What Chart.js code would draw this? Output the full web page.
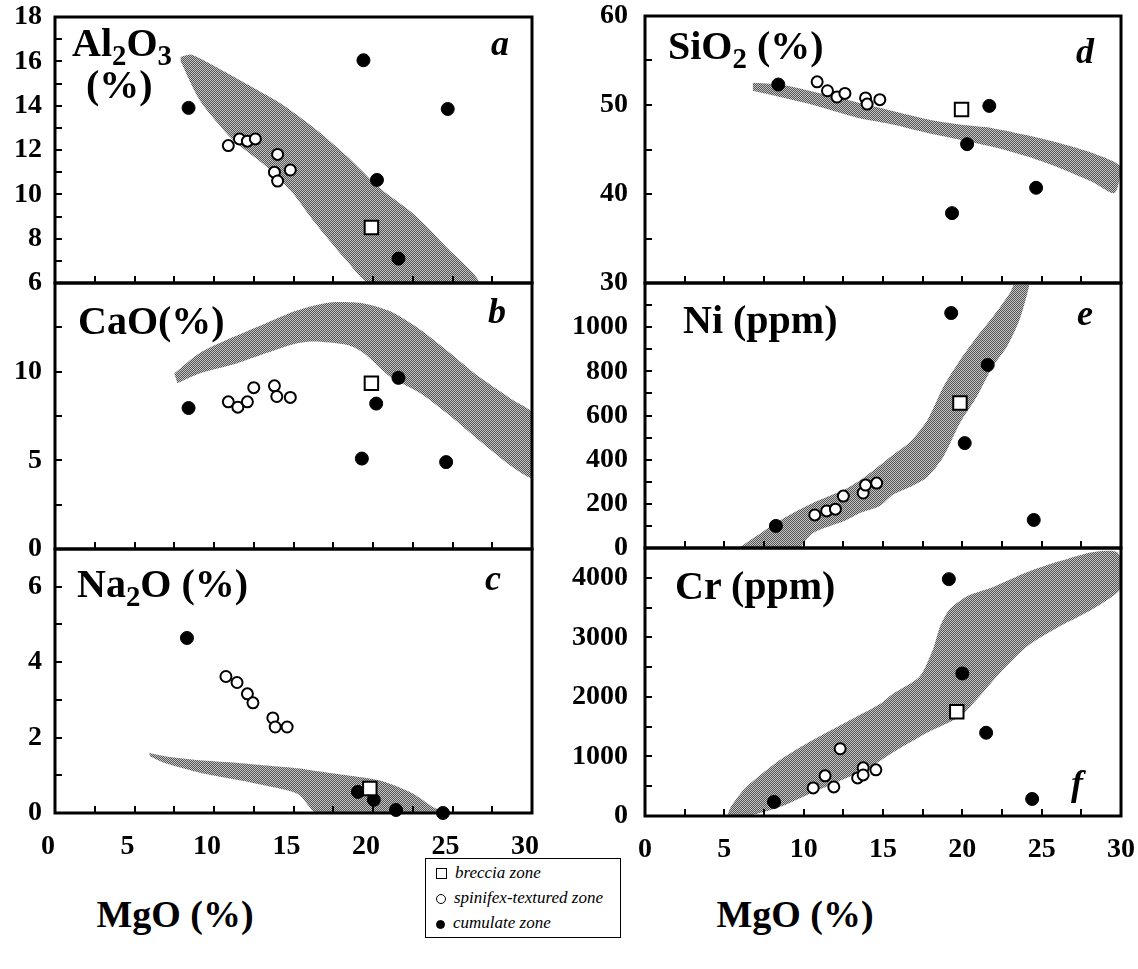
<!DOCTYPE html>
<html>
<head>
<meta charset="utf-8">
<script src="https://cdn.jsdelivr.net/npm/chart.js@4.4.0/dist/chart.umd.min.js"></script>
<style>
    body { margin: 0; background: #fff; width: 1138px; height: 969px; position: relative; overflow: hidden; font-family: 'Liberation Serif', 'Times New Roman', serif; color: #000; }
    canvas { position: absolute; }
    .name { position: absolute; font-weight: bold; font-size: 40px; line-height: 1; white-space: nowrap; }
    .name sub { font-size: 0.72em; vertical-align: -0.3em; line-height: 0; }
    .letter { position: absolute; font-weight: bold; font-style: italic; font-size: 36px; line-height: 1; transform: translateX(-50%); }
    .axtitle { position: absolute; font-weight: bold; font-size: 38px; line-height: 1; white-space: nowrap; transform: translateX(-50%); }
    #legend { position: absolute; left: 425px; top: 858px; width: 196px; height: 80px; border: 1.5px solid #000; box-sizing: border-box; font-style: italic; font-size: 17px; }
    #legend div { position: absolute; left: 10px; height: 20px; line-height: 20px; white-space: nowrap; }
    #legend span.mk { display: inline-block; box-sizing: border-box; margin-right: 8px; vertical-align: -1px; border: 1.5px solid #000; }
</style>
</head>
<body>
<div id="legend">
    <div style="top:4px"><span class="mk" style="width:11px;height:11px"></span>breccia zone</div>
    <div style="top:29px"><span class="mk" style="width:10px;height:10px;border-radius:50%"></span>spinifex-textured zone</div>
    <div style="top:54px"><span class="mk" style="width:9px;height:9px;border-radius:50%;background:#000"></span>cumulate zone</div>
</div>
<div class="axtitle" style="left:175px; top:895px">MgO (%)</div>
<div class="axtitle" style="left:795px; top:895px">MgO (%)</div>

<script>
// x axis of every panel: MgO (%)
const mgoTicks = { min: 0, max: 30, step: 2.5, labelEvery: 5 };

// --- a : Al2O3 (%) ---
const aBrecciaMgO = [19.9];
const aBreccia = [8.5];
const aSpinMgO = [10.9, 11.6, 12.1, 12.6, 14.0, 13.8, 14.0, 14.8];
const aSpin = [12.2, 12.5, 12.4, 12.5, 11.8, 11.0, 10.6, 11.1];
const aCumMgO = [8.4, 19.4, 20.25, 21.6, 24.7];
const aCum = [13.9, 16.05, 10.65, 7.1, 13.85];
const aFieldMgO = [7.9, 8.6, 10.5, 12.5, 14.2, 16.2, 18.4, 20.4, 22.5, 24.65, 26.6, 19.8, 18.35, 16.2, 14.9, 13.3, 11.2, 9.1, 7.9];
const aField = [16.2, 16.3, 15.6, 14.8, 14.1, 13.05, 11.7, 10.3, 9.15, 7.6, 6.0, 6.0, 7.0, 8.85, 10.1, 11.25, 12.45, 14.25, 16.0];

// --- b : CaO (%) ---
const bBrecciaMgO = [19.9];
const bBreccia = [9.35];
const bSpinMgO = [10.9, 11.5, 12.1, 12.5, 13.8, 13.95, 14.8];
const bSpin = [8.3, 8.0, 8.3, 9.1, 9.2, 8.6, 8.55];
const bCumMgO = [8.4, 19.3, 20.2, 21.6, 24.6];
const bCum = [7.95, 5.1, 8.2, 9.65, 4.9];
const bFieldMgO = [7.5, 9.1, 11.2, 13.3, 15.2, 17.3, 19.4, 21.1, 23.0, 24.65, 26.7, 28.8, 30.2, 30.2, 28.8, 26.7, 24.65, 22.95, 21.1, 19.4, 18.4, 16.2, 15.0, 13.3, 11.2, 9.1, 7.7];
const bField = [9.9, 11.05, 11.95, 12.75, 13.45, 13.9, 13.85, 13.4, 12.35, 11.2, 9.7, 8.4, 7.5, 4.0, 4.6, 6.1, 7.65, 8.8, 9.7, 11.05, 11.5, 11.7, 11.55, 11.05, 10.4, 9.9, 9.35];

// --- c : Na2O (%) ---
const cBrecciaMgO = [19.8];
const cBreccia = [0.65];
const cSpinMgO = [10.75, 11.45, 12.1, 12.45, 13.7, 13.85, 14.6];
const cSpin = [3.62, 3.46, 3.16, 2.92, 2.52, 2.28, 2.28];
const cCumMgO = [8.3, 19.05, 20.05, 21.45, 24.4];
const cCum = [4.64, 0.56, 0.35, 0.08, 0.0];
const cFieldMgO = [5.9, 7.0, 9.1, 11.2, 13.3, 15.4, 16.2, 18.35, 20.45, 22.5, 23.8, 24.6, 16.5, 15.3, 13.3, 11.2, 9.1, 7.0, 6.0];
const cField = [1.6, 1.5, 1.4, 1.34, 1.26, 1.18, 1.13, 1.0, 0.86, 0.52, 0.15, 0.0, 0.0, 0.5, 0.72, 0.9, 1.07, 1.31, 1.5];

// --- d : SiO2 (%) ---
const dBrecciaMgO = [19.95];
const dBreccia = [49.5];
const dSpinMgO = [10.85, 11.5, 12.1, 12.6, 13.9, 14.0, 14.8];
const dSpin = [52.6, 51.6, 50.9, 51.3, 50.8, 50.1, 50.6];
const dCumMgO = [8.4, 19.35, 20.3, 21.7, 24.65];
const dCum = [52.3, 37.85, 45.6, 49.9, 40.7];
const dFieldMgO = [6.8, 8.5, 10.6, 12.7, 14.8, 17.8, 19.85, 21.9, 24.1, 26.15, 28.2, 30.0, 29.6, 28.2, 26.15, 24.1, 21.9, 19.85, 17.8, 15.6, 13.5, 12.7, 10.6, 8.5, 6.8];
const dField = [52.5, 52.3, 51.5, 50.6, 49.7, 48.4, 47.8, 47.4, 46.6, 45.7, 44.6, 43.0, 40.1, 41.35, 42.9, 44.2, 45.3, 46.1, 46.85, 47.8, 48.5, 48.9, 50.0, 50.9, 51.6];

// --- e : Ni (ppm) ---
const eBrecciaMgO = [19.85];
const eBreccia = [657];
const eSpinMgO = [10.7, 11.45, 12.0, 12.5, 13.75, 13.9, 14.6];
const eSpin = [150, 168, 176, 235, 249, 285, 294];
const eCumMgO = [8.25, 19.3, 20.15, 21.6, 24.5];
const eCum = [100, 1064, 475, 829, 127];
const eFieldMgO = [5.9, 8.5, 10.6, 12.7, 14.0, 15.6, 16.7, 17.8, 18.8, 19.85, 20.9, 21.9, 23.0, 23.4, 24.2, 24.15, 23.6, 22.8, 21.9, 20.9, 19.85, 18.8, 17.8, 16.7, 15.6, 14.8, 13.55, 12.7, 10.6, 9.75];
const eField = [0, 125, 205, 270, 330, 420, 480, 580, 730, 850, 955, 1045, 1155, 1210, 1210, 1168, 1032, 910, 820, 684, 566, 412, 322, 276, 240, 190, 158, 127, 68, 0];

// --- f : Cr (ppm) ---
const fBrecciaMgO = [19.65];
const fBreccia = [1750];
const fSpinMgO = [10.6, 11.35, 11.9, 12.3, 13.4, 13.75, 13.75, 14.55];
const fSpin = [472, 674, 489, 1129, 640, 809, 690, 775];
const fCumMgO = [8.13, 19.15, 20.0, 21.5, 24.4];
const fCum = [236, 3977, 2393, 1398, 286];
const fFieldMgO = [5.2, 5.4, 6.4, 8.5, 10.6, 12.7, 14.8, 15.6, 17.3, 18.15, 18.6, 19.2, 20.3, 21.9, 24.1, 26.15, 28.2, 29.8, 30.1, 28.2, 26.15, 24.1, 22.4, 20.9, 19.85, 17.8, 15.6, 14.2, 12.7, 10.6, 8.5, 6.6];
const fField = [0, 150, 490, 940, 1280, 1580, 1880, 2050, 2340, 2800, 3185, 3470, 3690, 3840, 4095, 4280, 4430, 4420, 3860, 3470, 3185, 2850, 2410, 1955, 1670, 1400, 1060, 820, 640, 400, 150, 0];

const pts = (xs, ys) => xs.map((x, i) => ({ x: x, y: ys[i] }));

const tickFont = { family: 'Liberation Serif', size: 28, weight: 'bold' };

// dotted screen used for the shaded fields (soft checker, reads as mid grey)
function screenPattern() {
    const c = document.createElement('canvas');
    c.width = 2;
    c.height = 2;
    const g = c.getContext('2d');
    g.fillStyle = '#c4c4c4';
    g.fillRect(0, 0, 2, 2);
    g.fillStyle = '#555';
    g.fillRect(0, 0, 1, 1);
    g.fillRect(1, 1, 1, 1);
    return g.createPattern(c, 'repeat');
}
const screen = screenPattern();

// heavy frame round the plot plus short inward tick marks on the bottom and left axes
const framePlugin = {
    id: 'frame',
    afterDatasetsDraw(chart) {
        const { ctx, chartArea: a, scales } = chart;
        const tickLen = 7;
        ctx.save();
        ctx.strokeStyle = '#000';
        ctx.lineWidth = 2;
        ctx.beginPath();
        scales.x.ticks.forEach(t => {
            const px = Math.round(scales.x.getPixelForValue(t.value));
            ctx.moveTo(px, a.bottom);
            ctx.lineTo(px, a.bottom - tickLen);
        });
        scales.y.ticks.forEach(t => {
            const py = Math.round(scales.y.getPixelForValue(t.value));
            ctx.moveTo(a.left, py);
            ctx.lineTo(a.left + tickLen, py);
        });
        ctx.stroke();
        ctx.lineWidth = 3;
        ctx.strokeRect(a.left, a.top, a.right - a.left, a.bottom - a.top);
        ctx.restore();
    }
};

// keep every chart area exactly where the panel sits: no room reserved for overhanging labels
function fixScale(s, size) {
    if (s.isHorizontal()) {
        s.height = size;
    } else {
        s.width = size;
    }
    s.paddingLeft = 0;
    s.paddingRight = 0;
    s.paddingTop = 0;
    s.paddingBottom = 0;
}

const panels = [
    { col: 0, area: [55, 17, 532, 283], xLabels: false, y: [6, 18, 1, 2, []],
      breccia: pts(aBrecciaMgO, aBreccia), spin: pts(aSpinMgO, aSpin), cum: pts(aCumMgO, aCum), field: pts(aFieldMgO, aField) },
    { col: 0, area: [55, 283, 532, 549], xLabels: false, y: [0, 15, 2.5, 5, [15]],
      breccia: pts(bBrecciaMgO, bBreccia), spin: pts(bSpinMgO, bSpin), cum: pts(bCumMgO, bCum), field: pts(bFieldMgO, bField) },
    { col: 0, area: [55, 549, 532, 813], xLabels: true, y: [0, 7, 1, 2, []],
      breccia: pts(cBrecciaMgO, cBreccia), spin: pts(cSpinMgO, cSpin), cum: pts(cCumMgO, cCum), field: pts(cFieldMgO, cField) },
    { col: 1, area: [645, 16, 1121, 283], xLabels: false, y: [30, 60, 5, 10, []],
      breccia: pts(dBrecciaMgO, dBreccia), spin: pts(dSpinMgO, dSpin), cum: pts(dCumMgO, dCum), field: pts(dFieldMgO, dField) },
    { col: 1, area: [645, 283, 1121, 548], xLabels: false, y: [0, 1200, 100, 200, [1200]],
      breccia: pts(eBrecciaMgO, eBreccia), spin: pts(eSpinMgO, eSpin), cum: pts(eCumMgO, eCum), field: pts(eFieldMgO, eField) },
    { col: 1, area: [645, 548, 1121, 816], xLabels: true, y: [0, 4500, 500, 1000, []],
      breccia: pts(fBrecciaMgO, fBreccia), spin: pts(fSpinMgO, fSpin), cum: pts(fCumMgO, fCum), field: pts(fFieldMgO, fField) }
];

function buildPanel(p) {
    const leftW = p.col === 0 ? 55 : 80;
    const bottomH = p.xLabels ? 52 : 16;
    const pad = 16;
    const canvas = document.createElement('canvas');
    canvas.width = (p.area[2] - p.area[0]) + leftW + pad;
    canvas.height = (p.area[3] - p.area[1]) + pad + bottomH;
    canvas.style.left = (p.area[0] - leftW) + 'px';
    canvas.style.top = (p.area[1] - pad) + 'px';
    document.body.appendChild(canvas);

    const [yMin, yMax, yStep, yEvery, yHide] = p.y;

    new Chart(canvas.getContext('2d'), {
        type: 'scatter',
        data: {
            datasets: [{
                label: 'breccia zone',
                data: p.breccia,
                pointStyle: 'rect',
                pointRadius: 9.5,
                backgroundColor: '#fff',
                borderColor: '#000',
                borderWidth: 2,
                clip: false
            },
            {
                label: 'spinifex-textured zone',
                data: p.spin,
                pointStyle: 'circle',
                pointRadius: 5.5,
                backgroundColor: '#fff',
                borderColor: '#000',
                borderWidth: 2,
                clip: false
            },
            {
                label: 'cumulate zone',
                data: p.cum,
                pointStyle: 'circle',
                pointRadius: 6.5,
                backgroundColor: '#000',
                borderColor: '#000',
                borderWidth: 1,
                clip: false
            },
            {
                label: 'field',
                data: p.field,
                showLine: true,
                fill: 'shape',
                backgroundColor: screen,
                borderColor: 'transparent',
                borderWidth: 0,
                pointRadius: 0,
                tension: 0.25
            }]
        },
        options: {
            responsive: false,
            animation: false,
            events: [],
            layout: { padding: { top: pad, right: pad, left: 0, bottom: 0 } },
            plugins: { legend: { display: false }, tooltip: { enabled: false } },
            scales: {
                x: {
                    type: 'linear',
                    min: mgoTicks.min,
                    max: mgoTicks.max,
                    afterFit: s => fixScale(s, bottomH),
                    border: { display: false },
                    grid: { display: true, drawOnChartArea: false, drawTicks: false },
                    ticks: {
                        stepSize: mgoTicks.step,
                        autoSkip: false,
                        maxRotation: 0,
                        padding: 17,
                        labelOffset: p.col === 0 ? -7 : 0,
                        color: '#000',
                        font: tickFont,
                        callback: v => (p.xLabels && v % mgoTicks.labelEvery === 0) ? v : ''
                    }
                },
                y: {
                    type: 'linear',
                    min: yMin,
                    max: yMax,
                    afterFit: s => fixScale(s, leftW),
                    border: { display: false },
                    grid: { display: true, drawOnChartArea: false, drawTicks: false },
                    ticks: {
                        stepSize: yStep,
                        autoSkip: false,
                        padding: p.col === 0 ? 13 : 17,
                        color: '#000',
                        font: tickFont,
                        callback: v => (v % yEvery === 0 && !yHide.includes(v)) ? v : ''
                    }
                }
            }
        },
        plugins: [framePlugin]
    });
}

panels.forEach(buildPanel);
</script>

<div class="name" style="left:72px; top:23px">Al<sub>2</sub>O<sub>3</sub></div>
<div class="name" style="left:86px; top:65px">(%)</div>
<div class="name" style="left:78px; top:301px">CaO(%)</div>
<div class="name" style="left:77px; top:564px">Na<sub>2</sub>O (%)</div>
<div class="name" style="left:668px; top:26px">SiO<sub>2</sub> (%)</div>
<div class="name" style="left:683px; top:300px">Ni (ppm)</div>
<div class="name" style="left:675px; top:566px">Cr (ppm)</div>

<div class="letter" style="left:500px; top:25px">a</div>
<div class="letter" style="left:497px; top:293px">b</div>
<div class="letter" style="left:493px; top:560px">c</div>
<div class="letter" style="left:1085px; top:33px">d</div>
<div class="letter" style="left:1085px; top:295px">e</div>
<div class="letter" style="left:1077px; top:765px">f</div>
</body>
</html>
